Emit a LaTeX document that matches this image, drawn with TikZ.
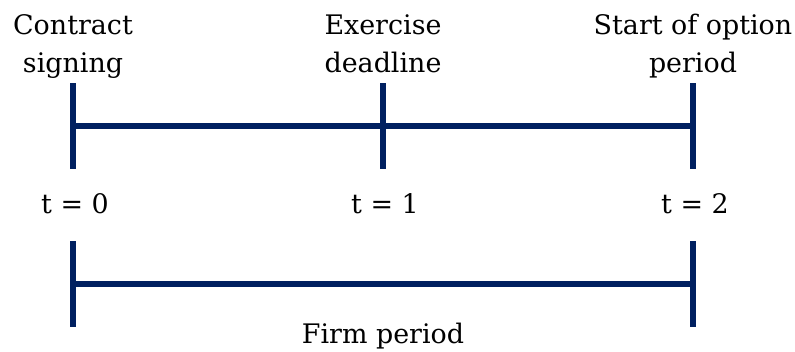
\documentclass[tikz,border=0pt]{standalone}
\usepackage{fontspec}
\setmainfont{DejaVu Serif}
\usepackage{tikz}
\definecolor{navy}{HTML}{002060}

\begin{document}
\begin{tikzpicture}[x=1bp,y=1bp,
        bar/.style={draw=navy,line width=6.5bp},
        lbl/.style={font=\fontsize{27}{38}\selectfont,inner sep=0pt,align=center,anchor=base}]
        \useasboundingbox (0,0) rectangle (795,351);
        % top timeline
        \coordinate (a0) at (73,225);
        \coordinate (a1) at (383,225);
        \coordinate (a2) at (693,225);
        \foreach \i in {0,1,2}
          \draw[bar] ([yshift=43bp]a\i) -- ([yshift=-43bp]a\i);
        \draw[bar] (a0) -- (a2);
        \node[lbl] (sign) at (73,279) {Contract\\signing};
        \node[lbl] (exer) at (383,279) {Exercise\\deadline};
        \node[lbl] (opt) at (693,279) {Start of option\\period};
        \node[lbl] (t0) at (75,138) {t = 0};
        \node[lbl] (t1) at (385,138) {t = 1};
        \node[lbl] (t2) at (695,138) {t = 2};
        % firm period
        \coordinate (b0) at (73,67);
        \coordinate (b2) at (693,67);
        \draw[bar] ([yshift=43bp]b0) -- ([yshift=-43bp]b0);
        \draw[bar] ([yshift=43bp]b2) -- ([yshift=-43bp]b2);
        \draw[bar] (b0) -- (b2);
        \node[lbl] (firm) at (383,8) {Firm period};
\end{tikzpicture}
\end{document}
